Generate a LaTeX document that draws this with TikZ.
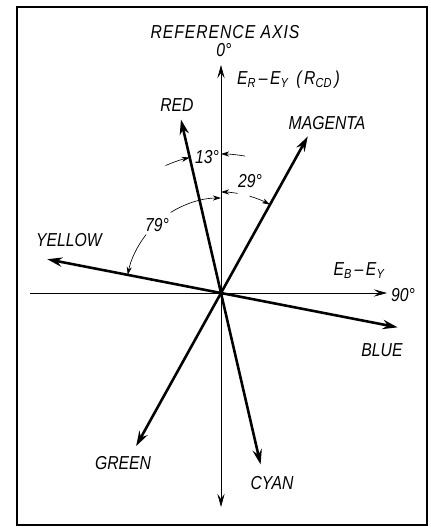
\documentclass[tikz,border=0pt]{standalone}
\usepackage{fontspec}
\setmainfont{Liberation Sans}
\usetikzlibrary{arrows.meta}
\tikzset{
  vector/.style={line width=2.2pt,-{Stealth[length=0.45cm,width=0.28cm,inset=0.15cm]}},
  axis/.style={line width=0.6pt},
  axistip/.tip={Stealth[length=0.4cm,width=0.22cm,inset=0.16cm]},
  dimarrow/.style={line width=0.55pt,-{Stealth[length=0.24cm,width=0.15cm,inset=0.07cm]}},
  lbl/.style={font=\fontsize{16}{18}\selectfont\itshape,inner sep=0pt,xscale=0.84,transform shape}
}
\begin{document}
\begin{tikzpicture}[x=0.03cm,y=0.03cm]
  \useasboundingbox (-221,-237) rectangle (210,293);
  % Frame
  \draw[line width=2.4pt] (-204,-232) rectangle (206,286);

  % Axes
  \coordinate (o) at (0,0);
  \coordinate (ytop) at (0,228);
  \coordinate (ybot) at (0,-214);
  \coordinate (xleft) at (-191,0);
  \coordinate (xright) at (166,0);
  \draw[axis,axistip-axistip] (ybot) -- (ytop);
  \draw[axis,-axistip] (xleft) -- (xright);

  % Colour vectors
  \coordinate (red) at (103:178);
  \coordinate (cyan) at (283:176);
  \coordinate (magenta) at (61:179);
  \coordinate (green) at (241:175);
  \coordinate (yellow) at (169:177);
  \coordinate (blue) at (349:180);
  \foreach \c in {red,cyan,magenta,green,yellow,blue}
    \draw[vector] (o) -- (\c);

  % Angle markers
  \draw[dimarrow] (113.5:139) arc[start angle=113.5,end angle=103,radius=4.17cm];
  \draw[dimarrow] (80:139) arc[start angle=80,end angle=90,radius=4.17cm];
  \draw[dimarrow] (80.5:101) arc[start angle=80.5,end angle=90,radius=3.03cm];
  \draw[dimarrow] (73.5:101) arc[start angle=73.5,end angle=61,radius=3.03cm];
  \draw[dimarrow] (122:95) arc[start angle=122,end angle=90,radius=2.85cm];
  \draw[dimarrow] (142:95) arc[start angle=142,end angle=169,radius=2.85cm];

  % Labels
  \node[lbl] (refaxis) at (4,261) {\addfontfeature{LetterSpace=6}REFERENCE AXIS};
  \node[lbl] (zerodeg) at (3,243) {0°};
  \node[lbl,anchor=west] (ery) at (16,213) {E\textsubscript{R}\,–\,E\textsubscript{Y}\enspace(\,R\textsubscript{CD}\,)};
  \node[lbl] (lblred) at (-44,188) {RED};
  \node[lbl] (lblmagenta) at (106,170) {MAGENTA};
  \node[lbl] (thirteen) at (-14,136) {13°};
  \node[lbl] (twentynine) at (29,112) {29°};
  \node[lbl] (seventynine) at (-64,68) {79°};
  \node[lbl] (lblyellow) at (-152,53) {YELLOW};
  \node[lbl] (eby) at (138,22) {E\textsubscript{B}\,–\,E\textsubscript{Y}};
  \node[lbl] (ninetydeg) at (182,-2) {90°};
  \node[lbl] (lblblue) at (161,-57) {BLUE};
  \node[lbl] (lblgreen) at (-98,-170) {GREEN};
  \node[lbl] (lblcyan) at (51,-190) {CYAN};
\end{tikzpicture}
\end{document}
